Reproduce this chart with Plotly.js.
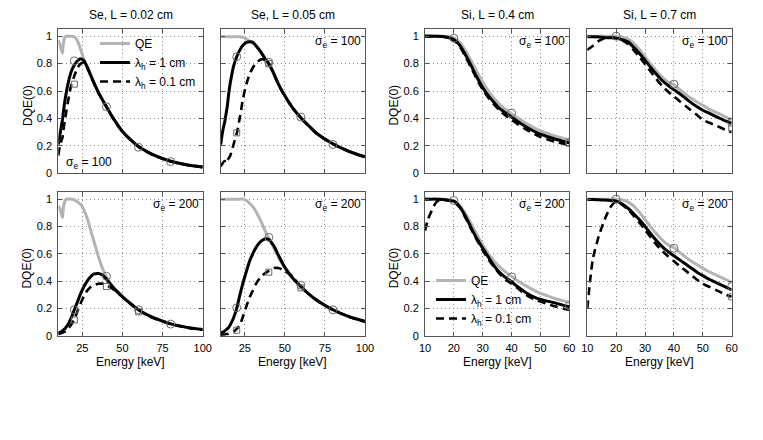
<!DOCTYPE html>
<html><head><meta charset="utf-8">
<script src="https://cdn.plot.ly/plotly-3.0.1.min.js"></script>
<style>html,body{margin:0;padding:0;background:#fff}#chart{width:763px;height:440px}</style>
</head><body><div id="chart"></div>
<script>
// ---------- DATA ----------
const SE_E = [10, 11, 12, 12.6, 13, 14, 15, 16, 18, 20, 22, 24, 26, 28, 30, 32, 35, 38, 40, 43, 46, 50, 55, 60, 65, 70, 80, 90, 100];
const SI_E = [10, 11, 12, 14, 16, 18, 20, 22, 24, 26, 28, 30, 32, 34, 36, 38, 40, 42, 45, 48, 50, 52, 55, 58, 60];

// Se, L = 0.02 cm, sigma_e = 100
const se002_s100_qe  = [0.97,0.94,0.90,0.875,0.93,0.99,1.0,1.0,1.0,0.995,0.965,0.90,0.83,0.775,0.72,0.665,0.59,0.525,0.485,0.425,0.37,0.305,0.245,0.195,0.16,0.13,0.088,0.062,0.046];
const se002_s100_l1  = [0.21,0.28,0.35,0.39,0.43,0.52,0.59,0.65,0.74,0.79,0.82,0.835,0.82,0.775,0.72,0.665,0.59,0.525,0.485,0.425,0.37,0.305,0.245,0.195,0.16,0.13,0.088,0.062,0.046];
const se002_s100_l01 = [0.13,0.20,0.24,0.26,0.30,0.38,0.45,0.52,0.64,0.71,0.77,0.80,0.805,0.77,0.718,0.663,0.588,0.523,0.483,0.423,0.368,0.303,0.243,0.193,0.158,0.128,0.087,0.061,0.045];
const se002_s100_circE = [20,40,60,80], se002_s100_circV = [0.82,0.485,0.19,0.085];
const se002_s100_sqE = [20], se002_s100_sqV = [0.65];

// Se, L = 0.05 cm, sigma_e = 100
const se005_s100_qe  = [0.995,0.995,0.995,0.995,0.995,0.995,0.995,0.995,0.995,0.995,0.995,0.99,0.98,0.965,0.955,0.93,0.885,0.83,0.80,0.73,0.65,0.565,0.475,0.405,0.345,0.29,0.215,0.16,0.12];
const se005_s100_l1  = [0.21,0.29,0.35,0.38,0.41,0.48,0.58,0.66,0.78,0.85,0.90,0.935,0.955,0.96,0.955,0.93,0.885,0.83,0.80,0.73,0.65,0.565,0.475,0.405,0.345,0.29,0.215,0.16,0.12];
const se005_s100_l01 = [0.05,0.07,0.085,0.09,0.075,0.09,0.11,0.13,0.21,0.29,0.41,0.55,0.65,0.72,0.77,0.80,0.83,0.825,0.798,0.728,0.648,0.563,0.473,0.403,0.343,0.288,0.213,0.158,0.118];
const se005_s100_circE = [20,40,60,80], se005_s100_circV = [0.85,0.81,0.41,0.21];
const se005_s100_sqE = [20,40], se005_s100_sqV = [0.295,0.80];

// Se, L = 0.02 cm, sigma_e = 200
const se002_s200_qe  = [0.95,0.93,0.89,0.865,0.92,0.98,1.0,1.0,1.0,0.995,0.98,0.96,0.92,0.86,0.78,0.70,0.58,0.48,0.43,0.375,0.335,0.29,0.238,0.192,0.157,0.13,0.088,0.062,0.046];
const se002_s200_l1  = [0.02,0.025,0.03,0.035,0.04,0.05,0.065,0.08,0.13,0.19,0.25,0.31,0.36,0.40,0.43,0.45,0.455,0.44,0.415,0.37,0.33,0.285,0.235,0.19,0.155,0.128,0.087,0.061,0.045];
const se002_s200_l01 = [0.01,0.015,0.02,0.022,0.025,0.03,0.04,0.05,0.08,0.12,0.18,0.24,0.29,0.33,0.355,0.37,0.38,0.38,0.37,0.35,0.325,0.283,0.233,0.188,0.153,0.126,0.086,0.06,0.044];
const se002_s200_circE = [20,40,60,80], se002_s200_circV = [0.19,0.435,0.19,0.085];
const se002_s200_sqE = [20,40,60], se002_s200_sqV = [0.115,0.36,0.175];

// Se, L = 0.05 cm, sigma_e = 200
const se005_s200_qe  = [1,1,1,1,1,1,1,1,1,1,1,1,0.99,0.97,0.945,0.91,0.84,0.76,0.715,0.645,0.575,0.50,0.42,0.36,0.305,0.26,0.19,0.14,0.105];
const se005_s200_l1  = [0.02,0.025,0.03,0.035,0.04,0.05,0.06,0.08,0.13,0.20,0.30,0.39,0.47,0.545,0.60,0.645,0.69,0.71,0.705,0.66,0.59,0.50,0.42,0.36,0.305,0.26,0.19,0.14,0.105];
const se005_s200_l01 = [0.005,0.006,0.008,0.009,0.01,0.012,0.015,0.02,0.03,0.05,0.08,0.145,0.215,0.28,0.33,0.38,0.43,0.46,0.475,0.495,0.495,0.475,0.43,0.357,0.303,0.257,0.188,0.138,0.103];
const se005_s200_circE = [20,40,60,80], se005_s200_circV = [0.205,0.72,0.37,0.19];
const se005_s200_sqE = [20,40,60], se005_s200_sqV = [0.04,0.465,0.35];

// Si, L = 0.4 cm
const si04_qe       = [1,1,1,1,1,0.998,0.988,0.955,0.895,0.82,0.74,0.665,0.60,0.545,0.50,0.465,0.435,0.405,0.365,0.33,0.31,0.295,0.272,0.255,0.245];
const si04_s100_l1  = [1,1,1,1,0.998,0.99,0.975,0.935,0.865,0.785,0.70,0.625,0.565,0.515,0.47,0.44,0.41,0.38,0.34,0.305,0.285,0.27,0.25,0.232,0.222];
const si04_s100_l01 = [1,1,1,1,0.997,0.988,0.97,0.925,0.85,0.77,0.685,0.61,0.55,0.50,0.455,0.42,0.39,0.36,0.32,0.285,0.265,0.25,0.23,0.215,0.205];
const si04_s100_circE = [20,40,60], si04_s100_circV = [0.985,0.44,0.225];
const si04_s100_sqE = [60], si04_s100_sqV = [0.22];
const si04_s200_l1  = [1,1,1,1,0.998,0.992,0.985,0.945,0.875,0.79,0.71,0.64,0.575,0.51,0.46,0.425,0.395,0.36,0.315,0.28,0.265,0.255,0.24,0.222,0.212];
const si04_s200_l01 = [0.77,0.85,0.90,0.98,0.998,0.99,0.98,0.94,0.865,0.78,0.70,0.625,0.56,0.50,0.45,0.41,0.38,0.35,0.30,0.265,0.25,0.235,0.215,0.198,0.19];
const si04_s200_circE = [20,40,60], si04_s200_circV = [0.99,0.43,0.22];
const si04_s200_sqE = [], si04_s200_sqV = [];

// Si, L = 0.7 cm
const si07_qe       = [1,1,1,1,1,1,1,0.995,0.98,0.95,0.905,0.85,0.795,0.745,0.70,0.665,0.645,0.61,0.56,0.52,0.495,0.47,0.44,0.41,0.39];
const si07_s100_l1  = [0.995,0.995,0.995,0.993,0.99,0.988,0.985,0.975,0.96,0.92,0.875,0.825,0.77,0.72,0.675,0.64,0.61,0.58,0.53,0.485,0.46,0.44,0.41,0.38,0.365];
const si07_s100_l01 = [0.90,0.915,0.93,0.965,0.985,0.99,0.985,0.97,0.945,0.90,0.85,0.795,0.74,0.685,0.635,0.595,0.56,0.525,0.475,0.425,0.39,0.37,0.345,0.315,0.30];
const si07_s100_circE = [20,40,60], si07_s100_circV = [1.0,0.65,0.37];
const si07_s100_sqE = [60], si07_s100_sqV = [0.33];
const si07_s200_l1  = [0.998,0.997,0.997,0.995,0.993,0.99,0.985,0.965,0.935,0.895,0.85,0.80,0.745,0.695,0.65,0.615,0.585,0.555,0.51,0.465,0.44,0.415,0.385,0.355,0.335];
const si07_s200_l01 = [0.20,0.41,0.57,0.73,0.85,0.94,0.985,0.96,0.925,0.88,0.83,0.775,0.72,0.665,0.62,0.58,0.545,0.51,0.46,0.41,0.38,0.36,0.33,0.30,0.285];
const si07_s200_circE = [20,40,60], si07_s200_circV = [1.0,0.64,0.36];
const si07_s200_sqE = [60], si07_s200_sqV = [0.285];

const panelTitles = ["Se, L = 0.02 cm", "Se, L = 0.05 cm", "Si, L = 0.4 cm", "Si, L = 0.7 cm"];
const sigmaLabels = ["σ<sub>e</sub> = 100", "σ<sub>e</sub> = 200"];
const legendNames = ["QE", "λ<sub>h</sub> = 1 cm", "λ<sub>h</sub> = 0.1 cm"];
const seTicks = [25, 50, 75, 100];
const siTicks = [10, 20, 30, 40, 50, 60];
const yTicks = [0, 0.2, 0.4, 0.6, 0.8, 1];
const yTickText = ["0", "0.2", "0.4", "0.6", "0.8", "1"];

// ---------- BUILD ----------
const FONT = "Liberation Sans, Arial, Helvetica, sans-serif";
const GRAY = "#b4b4b4";
const traces = [];
function addPanel(idx, E, qe, l1, l01, cE, cV, sE, sV, legendId) {
  const xa = "x" + (idx === 1 ? "" : idx), ya = "y" + (idx === 1 ? "" : idx);
  const show = !!legendId;
  const common = {xaxis: xa, yaxis: ya, mode: "lines", hoverinfo: "skip"};
  traces.push(Object.assign({}, common, {x: E, y: qe, name: legendNames[0], legendrank: 1,
    line: {color: GRAY, width: 3, shape: "spline", smoothing: 0.7}, showlegend: show, legend: legendId || "legend"}));
  traces.push(Object.assign({}, common, {x: E, y: l01, name: legendNames[2], legendrank: 3,
    line: {color: "#000", width: 2.6, dash: "8px,5px", shape: "spline", smoothing: 0.7}, showlegend: show, legend: legendId || "legend"}));
  traces.push(Object.assign({}, common, {x: E, y: l1, name: legendNames[1], legendrank: 2,
    line: {color: "#000", width: 3, shape: "spline", smoothing: 0.7}, showlegend: show, legend: legendId || "legend"}));
  traces.push({xaxis: xa, yaxis: ya, x: cE, y: cV, mode: "markers", showlegend: false, hoverinfo: "skip",
    marker: {symbol: "circle-open", size: 8, color: "#6a6a6a", line: {width: 1}}});
  if (sE.length) traces.push({xaxis: xa, yaxis: ya, x: sE, y: sV, mode: "markers", showlegend: false, hoverinfo: "skip",
    marker: {symbol: "square-open", size: 6, color: "#6a6a6a", line: {width: 1}}});
}
addPanel(1, SE_E, se002_s100_qe, se002_s100_l1, se002_s100_l01, se002_s100_circE, se002_s100_circV, se002_s100_sqE, se002_s100_sqV, "legend");
addPanel(2, SE_E, se005_s100_qe, se005_s100_l1, se005_s100_l01, se005_s100_circE, se005_s100_circV, se005_s100_sqE, se005_s100_sqV, null);
addPanel(3, SI_E, si04_qe, si04_s100_l1, si04_s100_l01, si04_s100_circE, si04_s100_circV, si04_s100_sqE, si04_s100_sqV, null);
addPanel(4, SI_E, si07_qe, si07_s100_l1, si07_s100_l01, si07_s100_circE, si07_s100_circV, si07_s100_sqE, si07_s100_sqV, null);
addPanel(5, SE_E, se002_s200_qe, se002_s200_l1, se002_s200_l01, se002_s200_circE, se002_s200_circV, se002_s200_sqE, se002_s200_sqV, null);
addPanel(6, SE_E, se005_s200_qe, se005_s200_l1, se005_s200_l01, se005_s200_circE, se005_s200_circV, se005_s200_sqE, se005_s200_sqV, null);
addPanel(7, SI_E, si04_qe, si04_s200_l1, si04_s200_l01, si04_s200_circE, si04_s200_circV, si04_s200_sqE, si04_s200_sqV, "legend2");
addPanel(8, SI_E, si07_qe, si07_s200_l1, si07_s200_l01, si07_s200_circE, si07_s200_circV, si07_s200_sqE, si07_s200_sqV, null);

const W = 763, H = 440;
const colPx = [[58.3, 202.7], [220.7, 365], [425, 569.3], [587.3, 731.7]];
const rowPx = [[29.3, 173.3], [192.3, 335.7]];

const layout = {
  width: W, height: H, margin: {l: 0, r: 0, t: 0, b: 0},
  paper_bgcolor: "#fff", plot_bgcolor: "#fff",
  font: {family: FONT, size: 11, color: "#000"},
  annotations: [],
  legend: {x: 95 / W, y: 1 - 29 / H, xanchor: "left", yanchor: "top", bgcolor: "rgba(0,0,0,0)",
    font: {family: FONT, size: 12}, traceorder: "normal", tracegroupgap: 0, itemwidth: 30},
  legend2: {x: 431 / W, y: 1 - 266 / H, xanchor: "left", yanchor: "top", bgcolor: "rgba(0,0,0,0)",
    font: {family: FONT, size: 12}, traceorder: "normal", tracegroupgap: 0, itemwidth: 30}
};

for (let r = 0; r < 2; r++) {
  for (let c = 0; c < 4; c++) {
    const idx = r * 4 + c + 1;
    const sfx = idx === 1 ? "" : idx;
    const isSe = c < 2;
    layout["xaxis" + sfx] = {
      domain: [colPx[c][0] / W, colPx[c][1] / W], anchor: "y" + sfx,
      range: isSe ? [10, 100] : [10, 60], tickvals: isSe ? seTicks : siTicks,
      showticklabels: r === 1, ticks: "inside", ticklen: 4, tickcolor: "#555",
      showline: true, mirror: "ticks", linecolor: "#555", linewidth: 1,
      showgrid: true, gridcolor: "#8a8a8a", griddash: "1px,3px", gridwidth: 1, zeroline: false,
      tickfont: {family: FONT, size: 11}, fixedrange: true, ticklabelstandoff: 2
    };
    layout["yaxis" + sfx] = {
      domain: [1 - rowPx[r][1] / H, 1 - rowPx[r][0] / H], anchor: "x" + sfx,
      range: [0, 1.05], tickvals: yTicks, ticktext: yTickText,
      showticklabels: c === 0 || c === 2, ticks: "inside", ticklen: 4, tickcolor: "#555",
      showline: true, mirror: "ticks", linecolor: "#555", linewidth: 1,
      showgrid: true, gridcolor: "#8a8a8a", griddash: "1px,3px", gridwidth: 1, zeroline: false,
      tickfont: {family: FONT, size: 11}, fixedrange: true, ticklabelstandoff: 3
    };
    const xd = "x" + sfx + " domain", yd = "y" + sfx + " domain";
    if (r === 0) layout.annotations.push({text: panelTitles[c], xref: xd, yref: yd, x: 0.5, y: 1,
      xanchor: "center", yanchor: "bottom", yshift: 5, showarrow: false, font: {family: FONT, size: 12}});
    if (r === 1) layout.annotations.push({text: "Energy [keV]", xref: xd, yref: yd, x: 0.5, y: 0,
      xanchor: "center", yanchor: "top", yshift: -17, showarrow: false, font: {family: FONT, size: 12}});
    if (c === 0 || c === 2) layout.annotations.push({text: "DQE(0)", xref: xd, yref: yd, x: 0, y: 0.47,
      xanchor: "center", yanchor: "middle", xshift: -31, textangle: -90, showarrow: false, font: {family: FONT, size: 12}});
    if (idx === 1) layout.annotations.push({text: sigmaLabels[0], xref: xd, yref: yd, x: 0, y: 0,
      xanchor: "left", yanchor: "bottom", xshift: 6, yshift: 0, showarrow: false, font: {family: FONT, size: 12}});
    else layout.annotations.push({text: sigmaLabels[r], xref: xd, yref: yd, x: 1, y: 1,
      xanchor: "right", yanchor: "top", xshift: -2, yshift: -3, showarrow: false, font: {family: FONT, size: 12}});
  }
}

Plotly.newPlot("chart", traces, layout, {staticPlot: true, displayModeBar: false});
</script></body></html>
